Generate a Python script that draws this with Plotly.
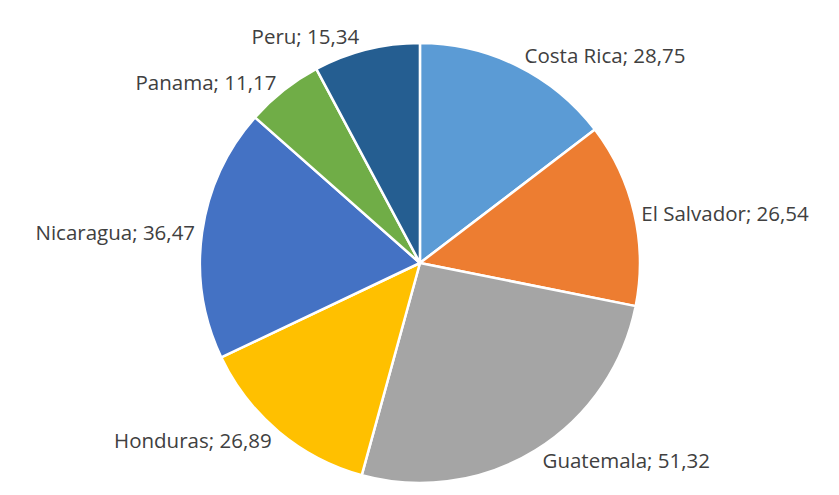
import plotly.graph_objects as go

# datos del gráfico
countries = ['Costa Rica', 'El Salvador', 'Guatemala', 'Honduras', 'Nicaragua', 'Panama', 'Peru']
values = [28.75, 26.54, 51.32, 26.89, 36.47, 11.17, 15.34]
value_labels = ['28,75', '26,54', '51,32', '26,89', '36,47', '11,17', '15,34']
colors = ['#5B9BD5', '#ED7D31', '#A5A5A5', '#FFC000', '#4472C4', '#70AD47', '#255E91']

fig = go.Figure()

fig.add_trace(
    go.Pie(
        labels=countries,
        values=values,
        customdata=value_labels,
        texttemplate='%{label}; %{customdata}',
        textposition='outside',
        textfont=dict(family='Open Sans', size=20.5, color='#404040'),
        marker=dict(colors=colors, line=dict(color='white', width=2.5)),
        sort=False,
        direction='clockwise',
        rotation=0,
        showlegend=False,
        domain=dict(x=[0.182, 0.757], y=[0, 1]),
    )
)

fig.update_layout(
    width=839,
    height=495,
    margin=dict(l=0, r=0, t=35, b=20),
    paper_bgcolor='white',
    plot_bgcolor='white',
)

fig.write_html("out.html")
